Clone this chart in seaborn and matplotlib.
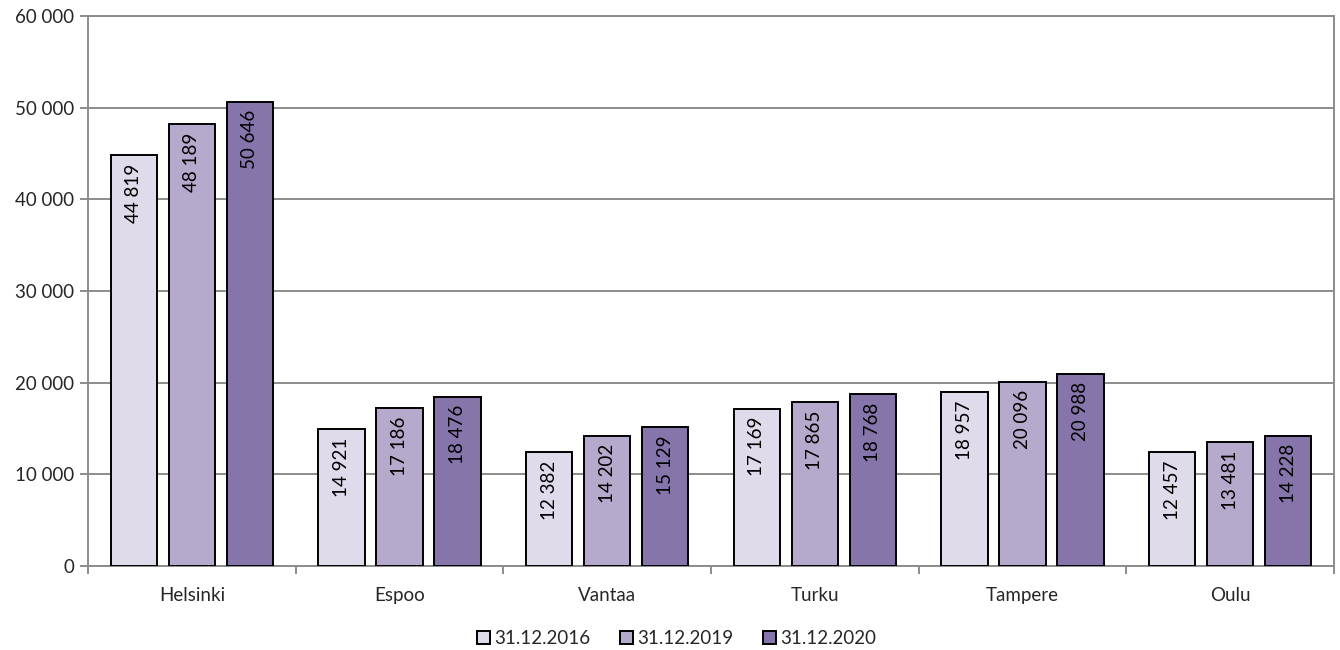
import numpy as np
import pandas as pd
import seaborn as sns
import matplotlib.pyplot as plt
from matplotlib.ticker import FuncFormatter, FixedLocator

# Datos
kaupungit = ['Helsinki', 'Espoo', 'Vantaa', 'Turku', 'Tampere', 'Oulu']
sarjat = ['31.12.2016', '31.12.2019', '31.12.2020']
v2016 = [44819, 14921, 12382, 17169, 18957, 12457]
v2019 = [48189, 17186, 14202, 17865, 20096, 13481]
v2020 = [50646, 18476, 15129, 18768, 20988, 14228]
varit = ['#dfdbeb', '#b5a9cc', '#8675ab']

df = pd.DataFrame({
    'kaupunki': kaupungit * 3,
    'sarja': np.repeat(sarjat, len(kaupungit)),
    'arvo': v2016 + v2019 + v2020,
})

sns.set_style('white')
plt.rcParams['font.family'] = ['Lato', 'DejaVu Sans']

fig = plt.figure(figsize=(13.4, 6.5), dpi=100)
ax = fig.add_axes([88 / 1340, 84 / 650, 1246 / 1340, 550 / 650])

sns.barplot(data=df, x='kaupunki', y='arvo', hue='sarja', order=kaupungit,
            hue_order=sarjat, palette=varit, width=0.837, gap=0.2,
            edgecolor='black', linewidth=1.4, saturation=1, ax=ax, zorder=3)

def fmt(v):
    return f'{int(v):,}'.replace(',', ' ')

for cont in ax.containers:
    for bar in cont:
        h = bar.get_height()
        ax.annotate(fmt(h), (bar.get_x() + bar.get_width() / 2, h),
                    xytext=(0, -6), textcoords='offset points',
                    rotation=90, ha='center', va='top', fontsize=13.5,
                    color='black', zorder=4)

ax.set_ylim(0, 60000)
ax.set_xlim(-0.5, len(kaupungit) - 0.5)
ax.set_yticks(range(0, 60001, 10000))
ax.yaxis.set_major_formatter(FuncFormatter(lambda v, p: fmt(v)))
ax.grid(True, axis='y', color='#8c8c8c', linewidth=1.4, zorder=0)
ax.set_axisbelow(True)

# x-akselin merkit ryhmien väleissä
ax.xaxis.set_major_locator(FixedLocator(np.arange(len(kaupungit) + 1) - 0.5))
ax.xaxis.set_minor_locator(FixedLocator(np.arange(len(kaupungit))))
ax.set_xticklabels([])
ax.set_xticklabels(kaupungit, minor=True)
ax.tick_params(axis='x', which='major', length=6, width=1.4, color='#8c8c8c',
               direction='out', bottom=True)
ax.tick_params(axis='x', which='minor', length=0, labelsize=13.5, pad=15)
ax.tick_params(axis='y', length=6, width=1.4, color='#8c8c8c', direction='out',
               left=True, labelsize=13.5, pad=4)

for side in ['left', 'right', 'bottom', 'top']:
    ax.spines[side].set_visible(True)
    ax.spines[side].set_color('#8c8c8c')
    ax.spines[side].set_linewidth(1.4)

ax.set_xlabel('')
ax.set_ylabel('')
ax.legend(loc='upper center', bbox_to_anchor=(0.4725, -0.085), ncol=3,
          frameon=False, fontsize=13.5, handlelength=0.7, handleheight=0.7,
          handletextpad=0.2, columnspacing=1.6)

fig.savefig('out.png', dpi=100)
